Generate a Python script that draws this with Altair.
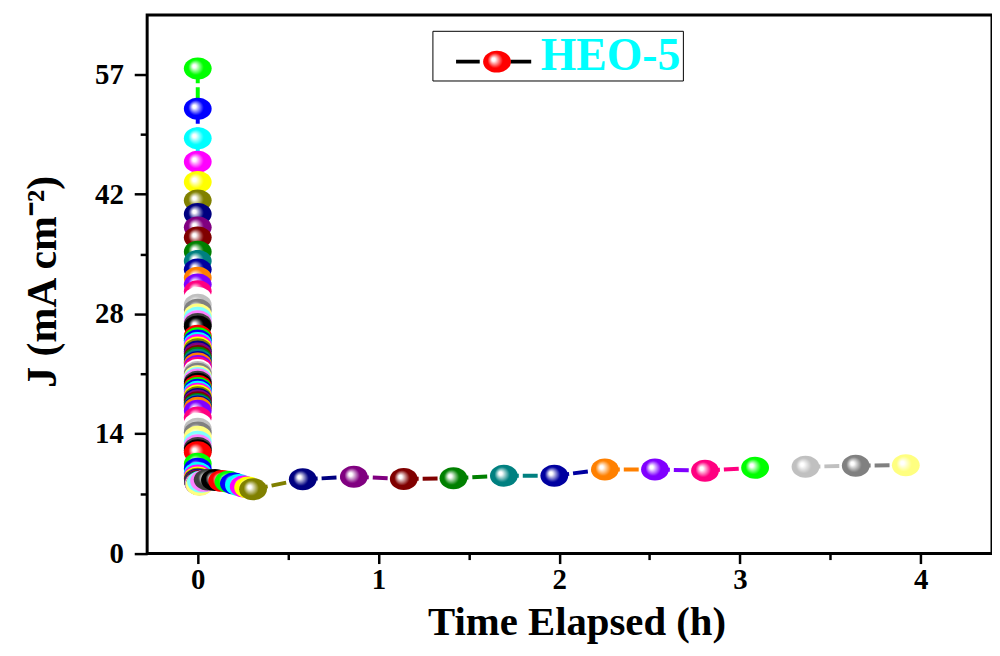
import altair as alt

# ---------------- data ----------------
# burst phase: all of these sit at t ~ 0 h (acquisition order, top to bottom)
burst_t = [
    0.0, 0.0, 0.0, 0.0, 0.0, 0.0, 0.0, 0.0, 0.0, 0.0,
    0.0, 0.0, 0.0, 0.0, 0.0, 0.0, 0.0, 0.0, 0.0, 0.0,
    0.0, 0.0, 0.0, 0.0, 0.0, 0.0, 0.0, 0.0, 0.0, 0.0,
    0.0, 0.0, 0.0, 0.0, 0.0, 0.0, 0.0, 0.0, 0.0, 0.0,
    0.0, 0.0, 0.0, 0.0, 0.0, 0.0, 0.0, 0.0, 0.0, 0.0,
    0.0, 0.0, 0.0, 0.0, 0.0, 0.0, 0.0, 0.0, 0.0, 0.0,
    0.0, 0.0, 0.0, 0.0, 0.0, 0.0, 0.0, 0.0, 0.0, 0.0,
    0.0, 0.0, 0.0, 0.0,
    0.0, 0.0, 0.0, 0.0, 0.001, 0.001, 0.002, 0.002, 0.003, 0.003,
    0.004, 0.005, 0.006, 0.007, 0.008, 0.009, 0.010,
]
burst_j = [
    57.7, 52.9, 49.4, 46.6, 44.2, 42.0, 40.4, 38.8, 37.6, 35.9,
    34.8, 33.8, 32.8, 32.0, 31.2, 30.4, 29.6, 29.0, 28.45, 28.05,
    27.65, 27.3, 27.0,
    25.9, 25.6, 25.35, 25.05, 24.8, 24.5, 24.3, 24.05, 23.8, 23.5,
    23.3, 23.05, 22.8, 22.6, 22.3, 22.1, 21.85, 21.6, 21.4, 21.1,
    20.9, 20.7, 20.45, 20.2,
    19.95, 19.7, 19.5, 19.25, 19.0, 18.8, 18.6, 18.4, 18.2, 18.0,
    17.8, 17.65, 17.5, 17.35, 17.0, 16.2, 15.45, 14.85, 14.4, 13.9,
    13.3, 12.9, 12.55, 12.3, 12.05, 10.7, 10.1,
    9.6, 9.3, 9.05, 8.9, 8.8, 8.7, 8.6, 8.55, 8.5, 8.45,
    8.4, 8.35, 8.3, 8.3, 8.25, 8.25, 8.2,
]
# early decay, 0 - 0.31 h
early_t = [0.018, 0.035, 0.055, 0.095, 0.135, 0.17, 0.20, 0.228, 0.254, 0.279, 0.306]
early_j = [8.55, 8.65, 8.8, 8.75, 8.65, 8.55, 8.35, 8.15, 7.97, 7.85, 7.65]
# steady operation
late_t = [0.581, 0.864, 1.140, 1.415, 1.694, 1.973, 2.253, 2.530, 2.807, 3.084, 3.363, 3.641, 3.918]
late_j = [8.83, 9.15, 8.87, 8.95, 9.27, 9.27, 10.01, 10.01, 9.86, 10.21, 10.33, 10.45, 10.52]

series_name = "HEO-5"
y_major = [0, 14.25, 28.5, 42.75, 57]
y_minor = [7.125, 21.375, 35.625, 49.875]
x_major = [0, 1, 2, 3, 4]
x_minor = [0.5, 1.5, 2.5, 3.5]

# Origin-style colour increment list
palette = ["#000000", "#FF0000", "#00FF00", "#0000FF", "#00FFFF", "#FF00FF", "#FFFF00", "#808000",
           "#000080", "#800080", "#800000", "#008000", "#008080", "#0000A0", "#FF8000", "#8000FF",
           "#FF0080", "#FFFFFF", "#C0C0C0", "#808080", "#FFFF80", "#80FFFF", "#FF80FF", "#404040"]
start_color = 2
ball_override = {111: "#00FF00"}   # the white-slot ball in the long tail is drawn green

ELLIPSE = "M-1,0A1,0.79,0,1,1,1,0A1,0.79,0,1,1,-1,0Z"
ELLIPSE_LEG = "M-1,0.43A1,0.79,0,1,1,1,0.43A1,0.79,0,1,1,-1,0.43Z"
LINE_LEG = "M-2.8,0.43H-1.1M1.1,0.43H2.6"
FONT = "Liberation Serif"


def tint(c, f):
    r, g, b = int(c[1:3], 16), int(c[3:5], 16), int(c[5:7], 16)
    return "#%02x%02x%02x" % tuple(round(v + (255 - v) * f) for v in (r, g, b))


def sphere(c):
    return {
        "gradient": "radial",
        "x1": 0.36, "y1": 0.41, "r1": 0,
        "x2": 0.5, "y2": 0.5, "r2": 0.5,
        "stops": [
            {"offset": 0, "color": "#ffffff"},
            {"offset": 0.12, "color": "#ffffff"},
            {"offset": 0.33, "color": tint(c, 0.5)},
            {"offset": 0.55, "color": c},
            {"offset": 1, "color": c},
        ],
    }


all_t = burst_t + early_t + late_t
all_j = burst_j + early_j + late_j

balls = []
segs = []
for k, (t, j) in enumerate(zip(all_t, all_j)):
    base = palette[(k + start_color) % len(palette)]
    bcol = ball_override.get(k, base)
    balls.append({"t": t, "j": j, "grad": sphere(bcol)})
    if k + 1 < len(all_t):
        segs.append({"t": t, "j": j, "t2": all_t[k + 1], "j2": all_j[k + 1], "col": base})

legend_rows = [{"t": 0, "j": 0, "lineKey": "line", "ballKey": series_name}]

xs = alt.Scale(domain=[-0.28, 4.395], nice=False, zero=False)
ys = alt.Scale(domain=[0, 64.07], nice=False, zero=False)

rules = alt.Chart(alt.Data(values=segs)).mark_rule(
    strokeWidth=4, strokeDash=[15, 4]
).encode(
    x=alt.X("t:Q", scale=xs, axis=alt.Axis(values=x_minor, tickSize=6, labels=False,
                                          title=None, orient="bottom", domain=False, grid=False)),
    x2="t2:Q",
    y=alt.Y("j:Q", scale=ys, axis=alt.Axis(values=y_minor, tickSize=7, labels=False,
                                          title=None, orient="left", domain=False, grid=False)),
    y2="j2:Q",
    color=alt.Color("col:N", scale=None, legend=None),
)

points = alt.Chart(alt.Data(values=balls)).mark_point(
    filled=True, shape=ELLIPSE, size=784, strokeWidth=0, opacity=1
).encode(
    x=alt.X("t:Q", scale=xs, axis=alt.Axis(
        values=x_major, format="d", tickSize=10, labelPadding=2.5, orient="bottom",
        labelFontSize=29,
        title="Time Elapsed (h)", titleFontSize=41, titleX=432, titleY=49,
        titleBaseline="top", domain=False, grid=False)),
    y=alt.Y("j:Q", scale=ys, axis=alt.Axis(
        values=y_major, labelExpr="floor(datum.value)", tickSize=13, labelPadding=11,
        labelFontSize=29,
        orient="left", title="J (mA cm⁻²)", titleFontSize=42, titleX=-83, titleY=268,
        titleAngle=270, titleBaseline="bottom", labelOverlap=False, domain=False, grid=False)),
    fill=alt.Fill("grad:N", scale=None, legend=None),
)

leg_line = alt.Chart(alt.Data(values=legend_rows)).mark_point(
    filled=False, opacity=0, size=784
).encode(
    x=alt.X("t:Q", scale=xs, axis=None),
    y=alt.Y("j:Q", scale=ys, axis=None),
    stroke=alt.Stroke("lineKey:N", scale=alt.Scale(range=["black"]), legend=alt.Legend(
        orient="none", legendX=287, legendY=16, title=None, padding=2,
        symbolType=LINE_LEG, symbolSize=784, symbolStrokeWidth=4, symbolOffset=38,
        symbolOpacity=1, labelExpr="''", labelFontSize=46)),
)

leg_ball = alt.Chart(alt.Data(values=legend_rows)).mark_point(
    filled=True, opacity=0, size=784, strokeWidth=0, color=sphere("#FF0000")
).encode(
    x=alt.X("t:Q", scale=xs, axis=None),
    y=alt.Y("j:Q", scale=ys, axis=None),
    shape=alt.Shape("ballKey:N", scale=alt.Scale(range=[ELLIPSE_LEG]), legend=alt.Legend(
        orient="none", legendX=287, legendY=16, title=None, padding=2,
        strokeColor="black", symbolSize=784, symbolStrokeWidth=0, symbolOffset=40,
        symbolOpacity=1, labelOffset=21, labelFont=FONT, labelFontSize=46,
        labelFontWeight="bold", labelColor="#00FFFF", labelLimit=400)),
)

chart = alt.layer(rules, points, leg_line, leg_ball).resolve_axis(
    x="independent", y="independent"
).properties(
    width=850, height=542,
    padding={"left": 140, "top": 5, "right": 0, "bottom": 89},
    autosize=alt.AutoSizeParams(type="none"),
).configure_view(
    stroke="black", strokeWidth=3
).configure_axis(
    labelFont=FONT, labelFontWeight="bold", labelFontSize=29, labelColor="black",
    titleFont=FONT, titleFontWeight="bold", titleColor="black",
    tickColor="black", tickWidth=2.5,
)

chart.save("out.html", embed_options={"renderer": "svg", "actions": False})
